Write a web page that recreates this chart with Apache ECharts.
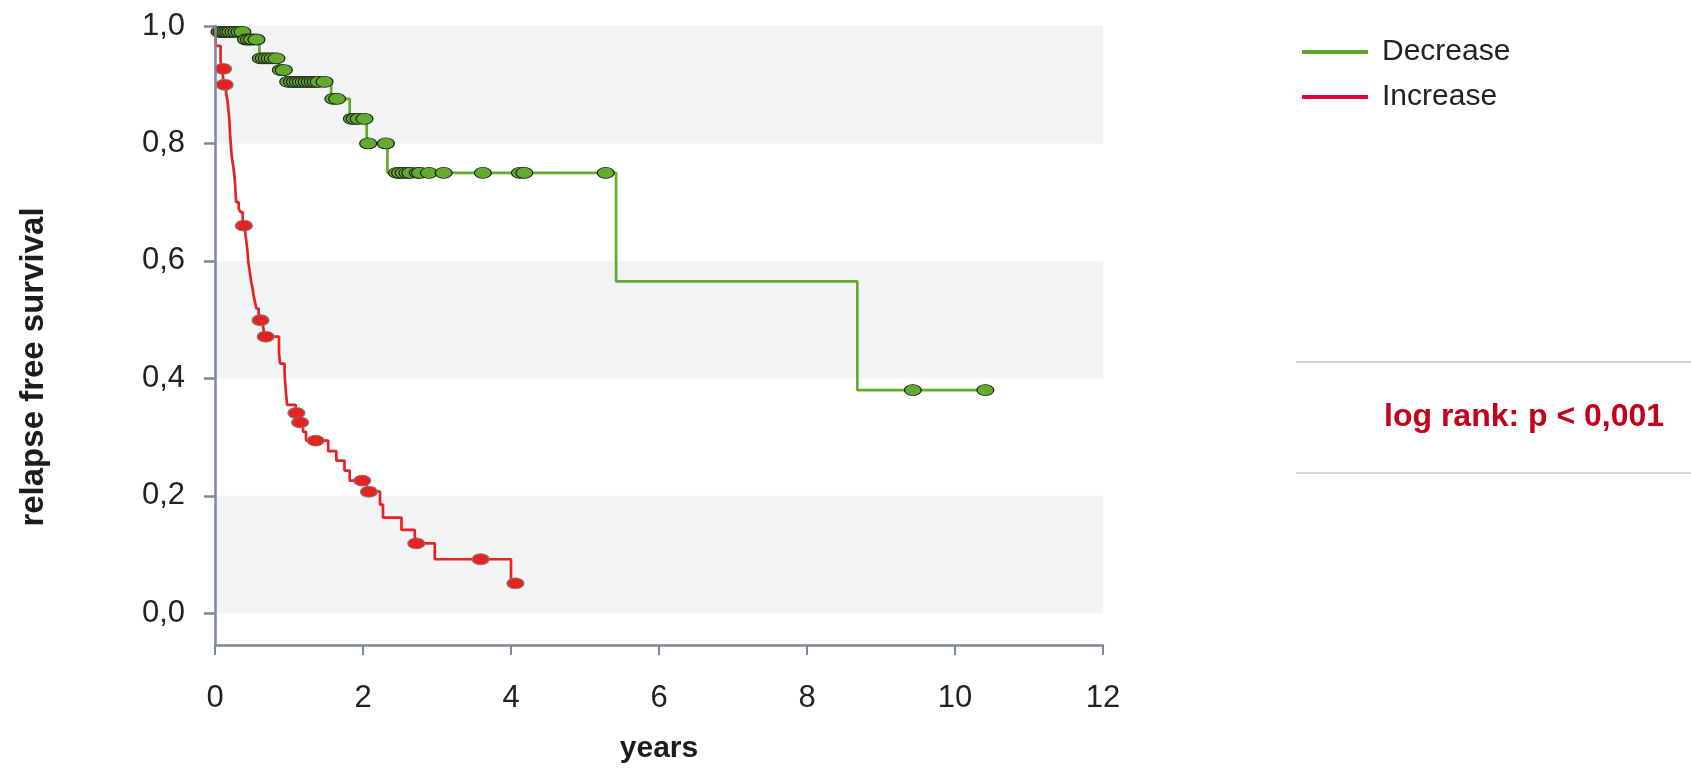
<!DOCTYPE html>
<html>
<head>
<meta charset="utf-8">
<script src="https://cdn.jsdelivr.net/npm/echarts@6/dist/echarts.min.js"></script>
<style>
html,body{margin:0;padding:0;background:#fff;}
#chart{width:1691px;height:769px;}
</style>
</head>
<body>
<div id="chart"></div>
<script>
// ---- data ----
const yTickValues = [0, 0.2, 0.4, 0.6, 0.8, 1.0];
const bandRanges = [[0, 0.2], [0.4, 0.6], [0.8, 1.0]];

const decreaseName = 'Decrease';
const increaseName = 'Increase';

// Kaplan-Meier steps: time (years) and survival after each step
const decreaseTime = [0, 0.01, 0.40, 0.60, 0.86, 0.95, 1.57, 1.82, 2.05, 2.33, 5.42, 8.68, 10.41];
const decreaseSurv = [1.0, 0.99, 0.977, 0.945, 0.925, 0.905, 0.876, 0.842, 0.80, 0.75, 0.565, 0.38, 0.38];

const decreaseCensorTime = [0.06, 0.09, 0.12, 0.15, 0.18, 0.21, 0.25, 0.29, 0.33, 0.37,
  0.42, 0.46, 0.50, 0.56,
  0.62, 0.66, 0.70, 0.74, 0.78, 0.83,
  0.89, 0.93,
  0.99, 1.04, 1.08, 1.12, 1.16, 1.20, 1.24, 1.28, 1.32, 1.36, 1.40, 1.48,
  1.60, 1.65,
  1.85, 1.89, 1.94, 2.02,
  2.07, 2.31,
  2.46, 2.50, 2.55, 2.60, 2.64, 2.74, 2.77, 2.89, 3.09, 3.62, 4.12, 4.18, 5.28,
  9.43, 10.41];
const decreaseCensorSurv = [0.99, 0.99, 0.99, 0.99, 0.99, 0.99, 0.99, 0.99, 0.99, 0.99,
  0.977, 0.977, 0.977, 0.977,
  0.945, 0.945, 0.945, 0.945, 0.945, 0.945,
  0.925, 0.925,
  0.905, 0.905, 0.905, 0.905, 0.905, 0.905, 0.905, 0.905, 0.905, 0.905, 0.905, 0.905,
  0.876, 0.876,
  0.842, 0.842, 0.842, 0.842,
  0.80, 0.80,
  0.75, 0.75, 0.75, 0.75, 0.75, 0.75, 0.75, 0.75, 0.75, 0.75, 0.75, 0.75, 0.75,
  0.38, 0.38];

const increaseTime = [0, 0.012, 0.075, 0.095, 0.12, 0.15, 0.17, 0.18, 0.19, 0.195, 0.20, 0.205,
  0.215, 0.225, 0.245, 0.26, 0.27, 0.278, 0.285, 0.32, 0.345, 0.375, 0.41, 0.425, 0.44, 0.45,
  0.47, 0.49, 0.51, 0.52, 0.54, 0.56, 0.59, 0.605, 0.65, 0.67, 0.865, 0.88, 0.94, 0.95, 0.96,
  0.975, 1.09, 1.14, 1.19, 1.23, 1.53, 1.64, 1.75, 1.82, 2.05, 2.23, 2.27, 2.52, 2.70, 2.97,
  4.00, 4.06];
const increaseSurv = [1.0, 0.966, 0.94, 0.927, 0.900, 0.886, 0.872, 0.858, 0.846, 0.835, 0.824, 0.813,
  0.796, 0.779, 0.762, 0.748, 0.734, 0.717, 0.700, 0.689, 0.683, 0.660, 0.646, 0.632, 0.615, 0.598,
  0.581, 0.564, 0.552, 0.541, 0.530, 0.519, 0.510, 0.499, 0.488, 0.471, 0.442, 0.425, 0.41, 0.39, 0.373,
  0.355, 0.341, 0.325, 0.309, 0.294, 0.276, 0.26, 0.243, 0.226, 0.207, 0.185, 0.163, 0.142, 0.119, 0.092,
  0.051, 0.051];

const increaseCensorTime = [0.11, 0.13, 0.39, 0.615, 0.685, 1.10, 1.15, 1.36, 1.99, 2.08, 2.72, 3.59, 4.06];
const increaseCensorSurv = [0.927, 0.900, 0.660, 0.499, 0.471, 0.341, 0.325, 0.294, 0.226, 0.207, 0.119, 0.092, 0.051];

// ---- build ----
const zip = (a, b) => a.map((v, i) => [v, b[i]]);
const FONT = "'Liberation Sans', Arial, sans-serif";
const AXIS_COLOR = '#7b879b';
const fmt = v => v.toFixed(1).replace('.', ',');

const chart = echarts.init(document.getElementById('chart'), null, {renderer: 'canvas'});
chart.setOption({
  animation: false,
  backgroundColor: '#ffffff',
  grid: {left: 215, right: 588, top: 26, bottom: 121, containLabel: false},
  xAxis: {
    type: 'value', min: 0, max: 12, interval: 2, z: 10,
    name: 'years', nameLocation: 'middle', nameGap: 89,
    nameTextStyle: {fontFamily: FONT, fontSize: 30, fontWeight: 'bold', color: '#1d1d1b'},
    axisLine: {show: true, onZero: false, lineStyle: {color: AXIS_COLOR, width: 2.5}},
    axisTick: {show: true, length: 10, lineStyle: {color: AXIS_COLOR, width: 2}},
    axisLabel: {fontFamily: FONT, fontSize: 31, color: '#222', margin: 38},
    splitLine: {show: false}
  },
  yAxis: {
    type: 'value', min: -0.054, max: 1, z: 10,
    axisLine: {show: true, onZero: false, lineStyle: {color: AXIS_COLOR, width: 2.5}},
    axisTick: {show: true, length: 11, customValues: yTickValues, lineStyle: {color: AXIS_COLOR, width: 2.5}},
    axisLabel: {fontFamily: FONT, fontSize: 31, color: '#222', margin: 30, customValues: yTickValues, formatter: fmt},
    splitLine: {show: false}
  },
  legend: {
    orient: 'vertical', left: 1297, top: 32, itemWidth: 66, itemHeight: 4, itemGap: 15,
    icon: 'rect', selectedMode: false,
    textStyle: {fontFamily: FONT, fontSize: 30, color: '#222', padding: [0, 0, 0, 9]},
    data: [
      {name: decreaseName, itemStyle: {color: '#5aa628', borderWidth: 0}},
      {name: increaseName, itemStyle: {color: '#e4003a', borderWidth: 0}}
    ]
  },
  graphic: [
    {type: 'text', x: 34, y: 367, rotation: Math.PI / 2,
     style: {text: 'relapse free survival', x: 0, y: 0, align: 'center', verticalAlign: 'middle',
             font: "bold 33px 'Liberation Sans', Arial, sans-serif", fill: '#1d1d1b'}},
    {type: 'line', shape: {x1: 1296, y1: 362, x2: 1691, y2: 362}, style: {stroke: '#b9c0ce', lineWidth: 1.5}},
    {type: 'line', shape: {x1: 1296, y1: 473, x2: 1691, y2: 473}, style: {stroke: '#c5cad3', lineWidth: 1.5}},
    {type: 'text', x: 1384, y: 417,
     style: {text: 'log rank: p < 0,001', x: 0, y: 0, align: 'left', verticalAlign: 'middle',
             font: "bold 32px 'Liberation Sans', Arial, sans-serif", fill: '#c4001a'}}
  ],
  series: [
    {
      name: 'bands', type: 'line', data: [[0, 0]], showSymbol: false, silent: true, z: 1,
      lineStyle: {opacity: 0},
      markArea: {
        silent: true,
        itemStyle: {color: '#f2f3f5'},
        data: bandRanges.map(r => [{xAxis: 0, yAxis: r[0]}, {xAxis: 12, yAxis: r[1]}])
      }
    },
    {
      name: decreaseName, type: 'line', step: 'end', data: zip(decreaseTime, decreaseSurv),
      showSymbol: false, z: 3,
      itemStyle: {color: '#62ab2c'},
      lineStyle: {color: '#62ab2c', width: 2.7}
    },
    {
      name: increaseName, type: 'line', step: 'end', data: zip(increaseTime, increaseSurv),
      showSymbol: false, z: 3,
      itemStyle: {color: '#e62320'},
      lineStyle: {color: '#e62320', width: 2.7}
    },
    {
      name: 'decreaseCensored', type: 'scatter', data: zip(decreaseCensorTime, decreaseCensorSurv),
      symbol: 'circle', symbolSize: [17, 11], z: 5,
      itemStyle: {color: '#62ab2c', borderColor: '#1e1e1e', borderWidth: 1, opacity: 1}
    },
    {
      name: 'increaseCensored', type: 'scatter', data: zip(increaseCensorTime, increaseCensorSurv),
      symbol: 'circle', symbolSize: [17, 11], z: 5,
      itemStyle: {color: '#e62320', borderColor: '#7d7d7d', borderWidth: 1, opacity: 1}
    }
  ]
});
</script>
</body>
</html>
